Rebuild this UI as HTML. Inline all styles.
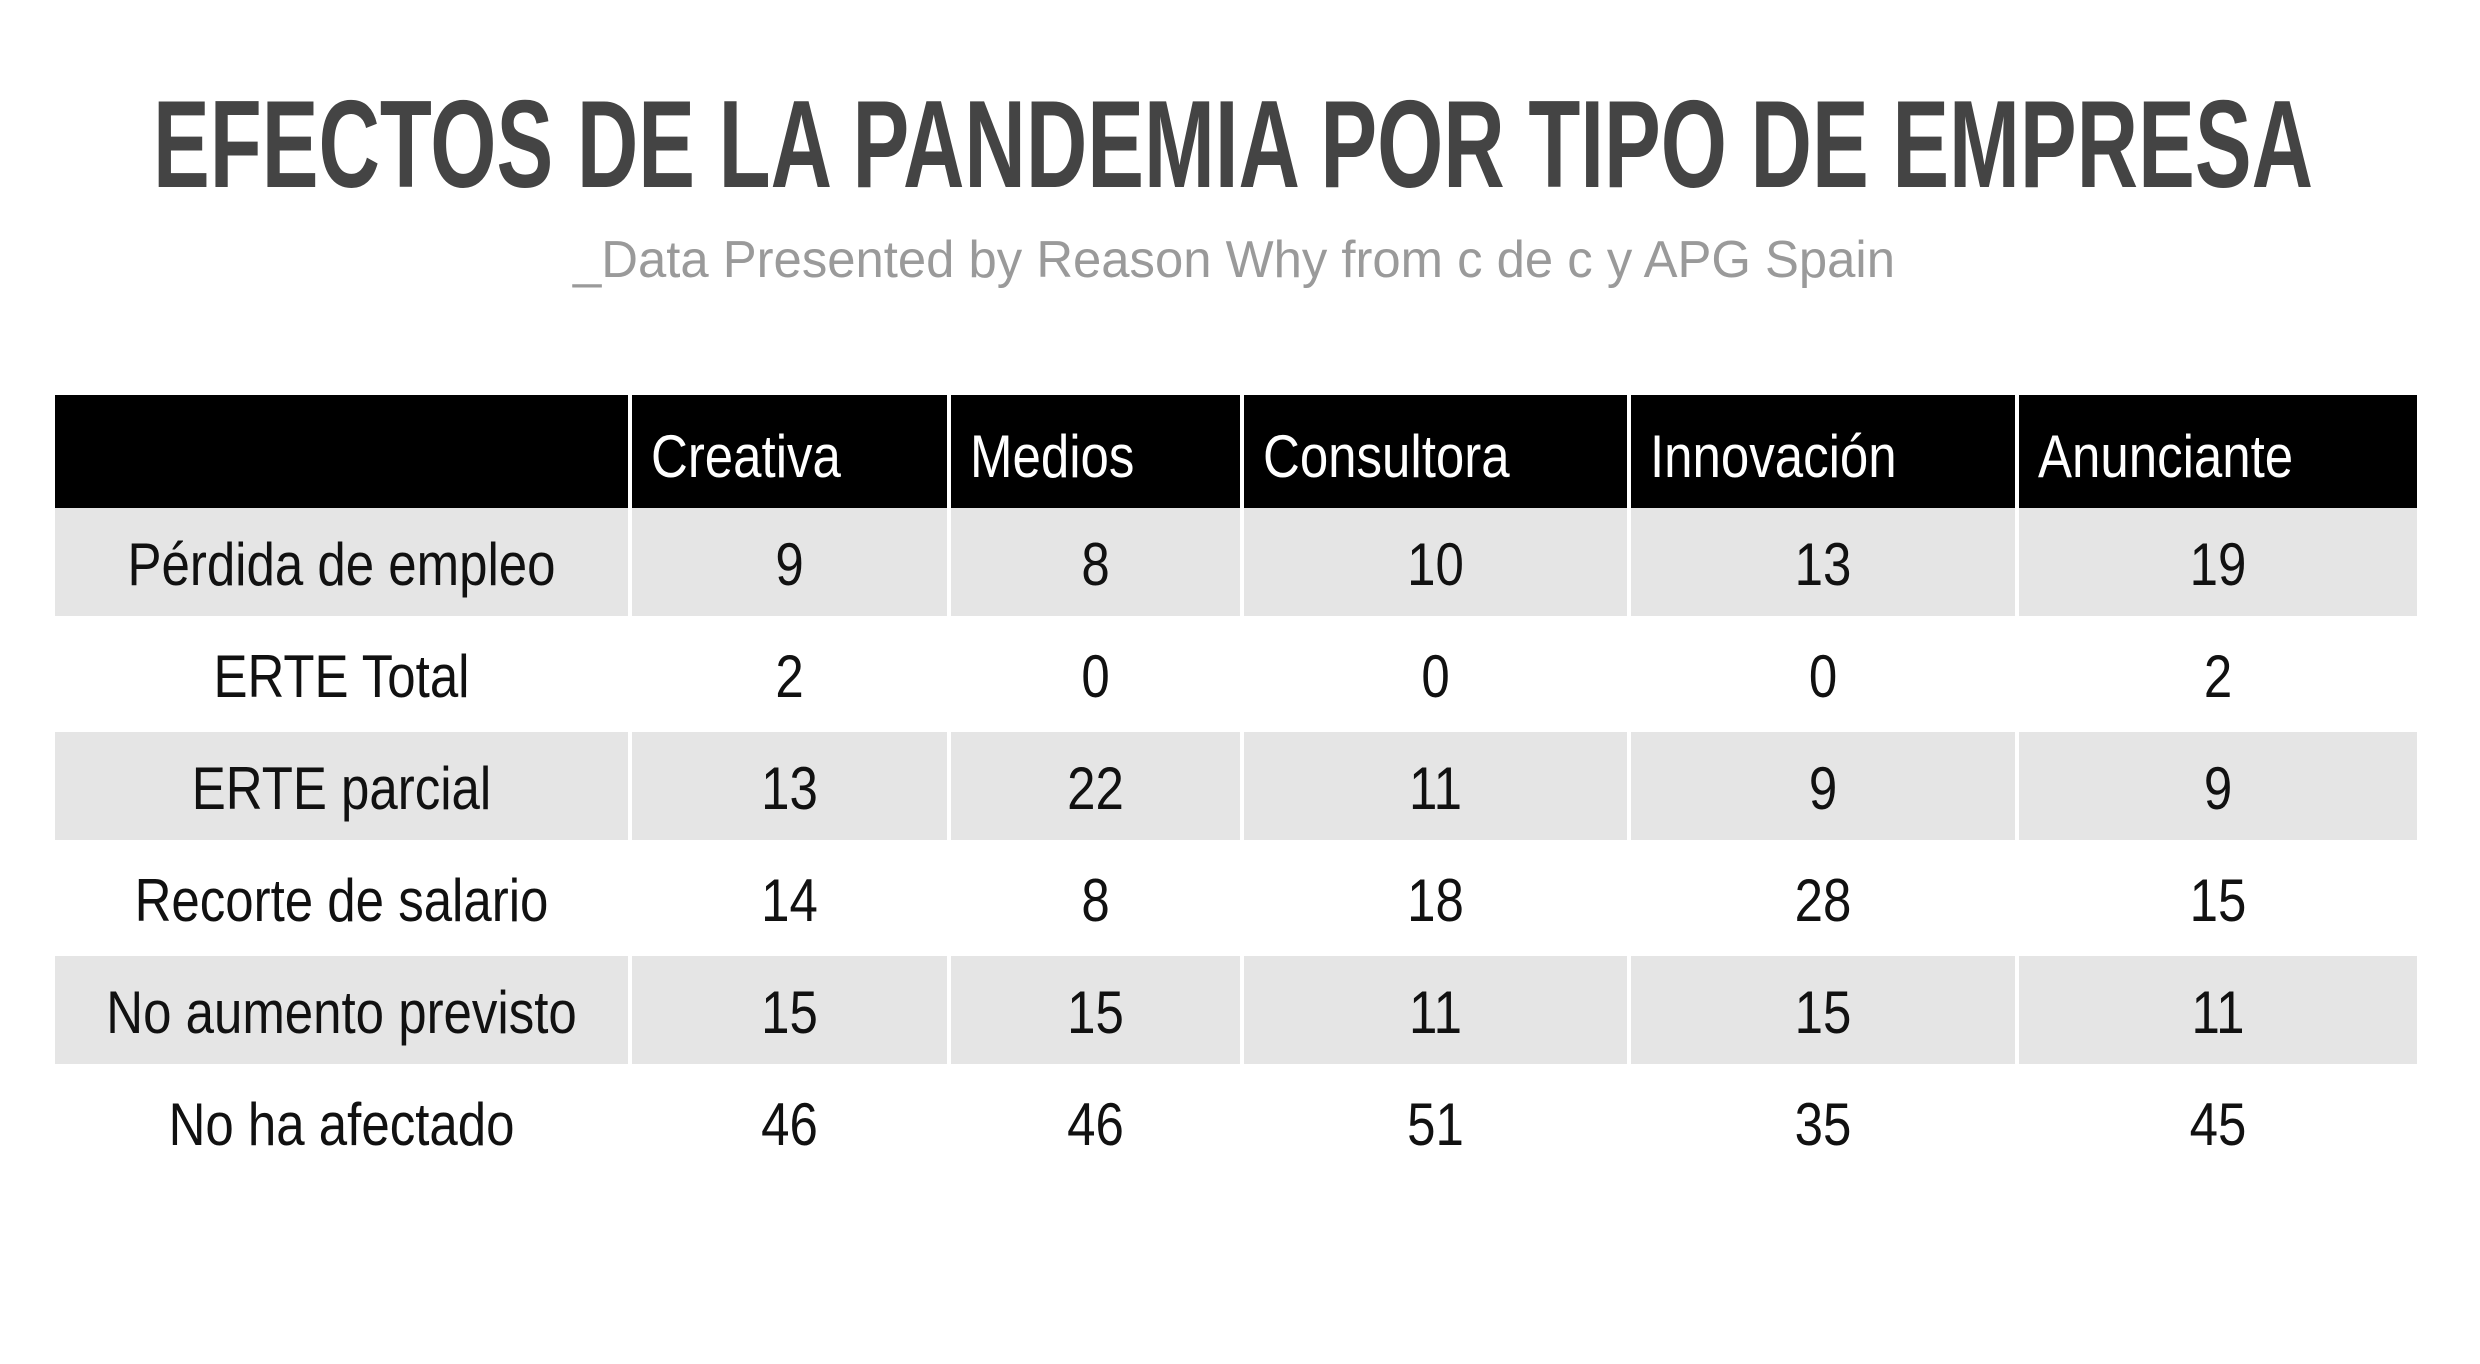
<!DOCTYPE html>
<html><head><meta charset="utf-8"><style>
html,body{margin:0;padding:0;background:#fff;}
svg{display:block;}
text{font-family:"Liberation Sans Narrow","Liberation Sans",sans-serif;}
</style></head><body>
<svg id="chart" width="2480" height="1364" viewBox="0 0 2480 1364" xmlns="http://www.w3.org/2000/svg">
<rect width="2480" height="1364" fill="#fff"/>
<text x="153" y="187" font-size="124" font-weight="bold" fill="#444" textLength="2160" lengthAdjust="spacingAndGlyphs">EFECTOS DE LA PANDEMIA POR TIPO DE EMPRESA</text>
<text x="573" y="277" font-size="52" fill="#9a9a9a" textLength="1322" lengthAdjust="spacingAndGlyphs">_Data Presented by Reason Why from c de c y APG Spain</text>
<g id="tbl"></g>
</svg>
<script>
const columns = ["Creativa","Medios","Consultora","Innovación","Anunciante"];
const rowLabels = ["Pérdida de empleo","ERTE Total","ERTE parcial","Recorte de salario","No aumento previsto","No ha afectado"];
const creativa = [9,2,13,14,15,46];
const medios = [8,0,22,8,15,46];
const consultora = [10,0,11,18,11,51];
const innovacion = [13,0,9,28,15,35];
const anunciante = [19,2,9,15,11,45];

const series = [creativa, medios, consultora, innovacion, anunciante];
const NS = "http://www.w3.org/2000/svg";
const g = document.getElementById('tbl');
const colEdges = [55, 630, 949, 1242, 1629, 2017, 2417];
const headerTop = 395, headerBottom = 508, rowH = 112;
const gap = 4;
const SX = 0.85;
function mk(tag, attrs, parent){
  const e = document.createElementNS(NS, tag);
  for (const k in attrs) e.setAttribute(k, attrs[k]);
  parent.appendChild(e); return e;
}
function txt(x, y, str, anchor, fill){
  const t = mk('text', {x:0, y:0, 'font-size':60, fill:fill, 'text-anchor':anchor,
    transform:'translate(' + x + ',' + y + ') scale(' + SX + ',1)'}, g);
  t.textContent = str;
  return t;
}
for (let c = 0; c < colEdges.length - 1; c++) {
  const x0 = colEdges[c] + (c > 0 ? gap/2 : 0);
  const x1 = colEdges[c+1] - (c < colEdges.length - 2 ? gap/2 : 0);
  const r = mk('rect', {x:x0, y:headerTop, width:x1-x0, height:headerBottom-headerTop, fill:'#000'}, g);
  
  
  if (c > 0) {
    const t = txt(x0+19, headerTop+82, columns[c-1], 'start', '#fff');
    
    
  }
}
for (let r = 0; r < rowLabels.length; r++) {
  const y0 = headerBottom + r*rowH;
  const shaded = r % 2 === 0;
  for (let c = 0; c < colEdges.length - 1; c++) {
    const x0 = colEdges[c] + (c > 0 ? gap/2 : 0);
    const x1 = colEdges[c+1] - (c < colEdges.length - 2 ? gap/2 : 0);
    if (shaded) {
      const rc = mk('rect', {x:x0, y:y0, width:x1-x0, height:rowH-(r<rowLabels.length-1?gap:0)}, g);
      rc.setAttribute('fill', '#e5e5e5');
      
      
    }
    const str = c === 0 ? rowLabels[r] : String(series[c-1][r]);
    const t = txt((x0+x1)/2, y0+77, str, 'middle', '#111');
    if (c === 0) {
      
    } else {
      
    }
    
  }
}
</script>
</body></html>
